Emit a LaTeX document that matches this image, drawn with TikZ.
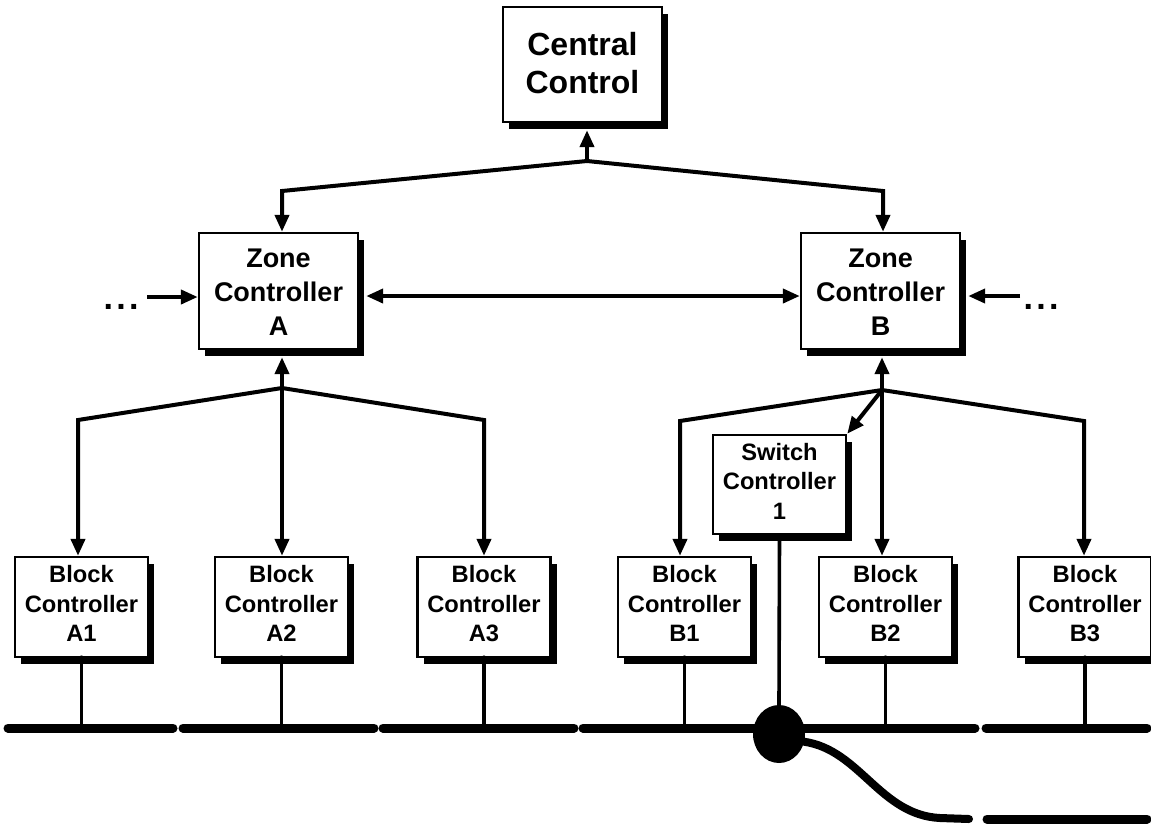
\documentclass[tikz,border=0pt]{standalone}
\usepackage{fontspec}
\setmainfont{Liberation Sans}
\usetikzlibrary{arrows.meta,shadows,shapes.geometric}
\newcommand{\mltext}[1]{\begin{tabular}[t]{@{}c@{}}#1\end{tabular}}
\tikzset{
  shbox/.style={draw=black,line width=2.4pt,fill=white,inner sep=0pt,font=\bfseries,
    drop shadow={shadow xshift=6pt,shadow yshift=-6.5pt,opacity=1,fill=black}},
  centralbox/.style={shbox,text height=25pt,text depth=43pt,minimum width=159pt,minimum height=115pt,font=\fontsize{32}{38}\selectfont\bfseries},
  zonebox/.style={shbox,text height=20pt,text depth=66.6pt,minimum width=159pt,minimum height=116pt,font=\fontsize{27}{34}\selectfont\bfseries},
  blockbox/.style={shbox,text height=17pt,text depth=66pt,minimum width=133pt,minimum height=100pt,font=\fontsize{23.7}{29.5}\selectfont\bfseries},
  conn/.style={line width=4pt},
  thinconn/.style={line width=3.6pt},
  arr/.style={-{Triangle[length=17pt,width=14pt]}},
  arrboth/.style={{Triangle[length=17pt,width=14pt]}-{Triangle[length=17pt,width=14pt]}},
  bus/.style={line width=9pt,line cap=round},
  cable/.style={line width=8pt,line cap=round},
  dots/.style={anchor=base,font=\fontsize{34}{34}\selectfont\bfseries},
}
\begin{document}
\begin{tikzpicture}[x=1pt,y=-1pt]
\useasboundingbox (0,0) rectangle (1151,823);

% boxes
\node[centralbox] (cc) at (582.5,64.5) {\mltext{Central\\Control}};
\node[zonebox] (za) at (278.5,291) {\mltext{Zone\\Controller\\A}};
\node[zonebox] (zb) at (880.5,291) {\mltext{Zone\\Controller\\B}};
\node[blockbox,minimum height=99pt] (sw) at (779.5,484.5) {\mltext{Switch\\Controller\\1}};
\node[blockbox] (a1) at (81.5,607) {\mltext{Block\\Controller\\A1}};
\node[blockbox] (a2) at (281.5,607) {\mltext{Block\\Controller\\A2}};
\node[blockbox] (a3) at (484,607) {\mltext{Block\\Controller\\A3}};
\node[blockbox] (b1) at (684.5,607) {\mltext{Block\\Controller\\B1}};
\node[blockbox] (b2) at (885.5,607) {\mltext{Block\\Controller\\B2}};
\node[blockbox] (b3) at (1085,607) {\mltext{Block\\Controller\\B3}};

% dots
\node[dots] (ld) at (121,309) {.\kern3.3pt.\kern3.3pt.};
\node[dots] (rd) at (1041,309) {.\kern3.3pt.\kern3.3pt.};

% central to zones
\coordinate (j0) at (587,161);
\coordinate (ka) at (282,191);
\coordinate (kb) at (883,191);
\draw[conn,arr] (j0) -- ([yshift=-7pt]j0 |- cc.south);
\draw[conn,arr,line join=miter] (j0) -- (ka) -- (ka |- za.north);
\draw[conn,arr,line join=miter] (j0) -- (kb) -- (kb |- zb.north);

% zone to zone and side arrows
\coordinate (mz) at (0,296);
\draw[conn,arrboth] ([xshift=7pt]za.east |- mz) -- (zb.west |- mz);
\coordinate (la) at (147,297);
\draw[conn,arr] (la) -- (la -| za.west);
\coordinate (ra) at (1020,296);
\draw[conn,arr] (ra) -- ([xshift=7pt]ra -| zb.east);

% zone A to blocks
\coordinate (ja) at (282,388);
\coordinate (qa1) at (78,420);
\coordinate (qa3) at (484,420);
\draw[conn,arr] (ja) -- ([yshift=-7pt]ja |- za.south);
\draw[conn,arr,line join=miter] (ja) -- (qa1) -- (qa1 |- a1.north);
\draw[conn,arr] (ja) -- (ja |- a2.north);
\draw[conn,arr,line join=miter] (ja) -- (qa3) -- (qa3 |- a3.north);

% zone B to blocks
\coordinate (jb) at (882,390);
\coordinate (qb1) at (680,421);
\coordinate (qb3) at (1084,421);
\draw[conn,arr] (jb) -- ([yshift=-7pt]jb |- zb.south);
\draw[conn,arr,line join=miter] (jb) -- (qb1) -- (qb1 |- b1.north);
\draw[conn,arr] (jb) -- (jb |- b2.north);
\draw[conn,arr,line join=miter] (jb) -- (qb3) -- (qb3 |- b3.north);
\draw[conn,arr] (jb) -- (sw.north east);

% buses
\coordinate (by) at (0,728);
\draw[bus] (8,728) -- (173,728);
\draw[bus] (183,728) -- (374,728);
\draw[bus] (383,728) -- (574,728);
\draw[bus] (583,728) -- (975,728);
\draw[bus] (986,728) -- (1147,728);
\draw[bus] (987,819) -- (1147,819);

% block drops
\foreach \b in {a1,a2,a3,b1,b2,b3}{
  \draw[thinconn] (\b.south) -- (\b.south |- by);
  \fill (\b.south) circle (2.8pt);
}

% hub and switch link
\node[ellipse,fill=black,minimum width=52pt,minimum height=58pt,inner sep=0pt] (hub) at (779,734) {};
\draw[thinconn] (sw.south) -- (hub.north);
\draw[cable] (hub.-17) .. controls (860,750) and (880,815) .. (940,818) -- (969,819);
\end{tikzpicture}
\end{document}
